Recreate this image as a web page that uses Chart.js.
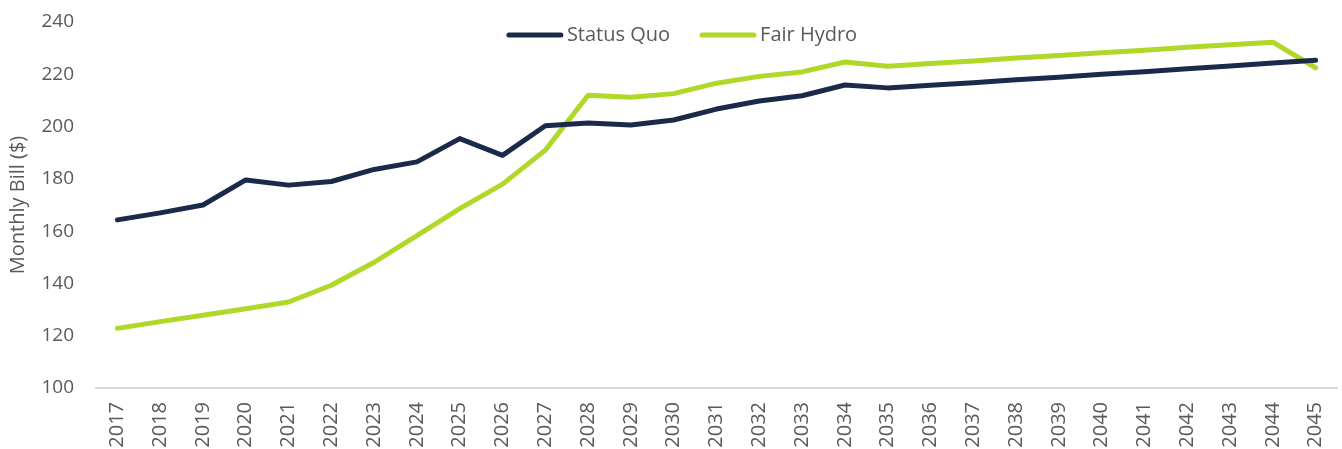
<!DOCTYPE html>
<html>
<head>
  <title>Monthly Bill</title>
  <script src="https://cdn.jsdelivr.net/npm/chart.js"></script>
  <style>
    body { margin: 0; background: #fff; }
    #wrap { width: 1342px; height: 449px; position: relative; }
  </style>
</head>
<body>
  <div id="wrap">
    <canvas id="myChart"></canvas>
  </div>

  <script>
    var years = ['2017', '2018', '2019', '2020', '2021', '2022', '2023', '2024', '2025', '2026',
                 '2027', '2028', '2029', '2030', '2031', '2032', '2033', '2034', '2035', '2036',
                 '2037', '2038', '2039', '2040', '2041', '2042', '2043', '2044', '2045'];

    var statusQuo = [164.3, 167, 170, 179.6, 177.6, 179, 183.6, 186.5, 195.4, 189,
                     200.3, 201.4, 200.6, 202.5, 206.7, 209.8, 211.8, 215.9, 214.8, 215.8,
                     216.8, 217.9, 218.9, 220, 221, 222.1, 223.2, 224.3, 225.4];

    var fairHydro = [122.8, 125.4, 127.8, 130.3, 132.9, 139.3, 148.1, 158.3, 168.6, 178,
                     191, 212, 211.2, 212.6, 216.6, 219.2, 220.9, 224.7, 223.1, 224.1,
                     225.1, 226.2, 227.2, 228.2, 229.2, 230.3, 231.3, 232.3, 222.5];

    var yTicks = [100, 120, 140, 160, 180, 200, 220, 240];

    var navy = '#1b2a4a';
    var green = '#afd829';
    var textGrey = '#595959';
    var fontFamily = 'Open Sans';

    // legend drawn over the top of the plot, like the original
    var topLegend = {
      id: 'topLegend',
      afterDatasetsDraw: function(chart) {
        var c = chart.ctx;
        var area = chart.chartArea;
        var lineLen = 56, textGap = 4, itemGap = 30;
        c.save();
        c.font = '20px "' + fontFamily + '"';
        var widths = chart.data.datasets.map(function(ds) {
          return lineLen + textGap + c.measureText(ds.label).width;
        });
        var total = widths.reduce(function(a, b) { return a + b; }, 0) + itemGap * (widths.length - 1);
        var x = 682 - total / 2;
        var y = area.top + 13;
        chart.data.datasets.forEach(function(ds, i) {
          c.strokeStyle = ds.borderColor;
          c.lineWidth = 5;
          c.lineCap = 'round';
          c.beginPath();
          c.moveTo(x + 2, y);
          c.lineTo(x + lineLen - 2, y);
          c.stroke();
          c.fillStyle = textGrey;
          c.textBaseline = 'middle';
          c.textAlign = 'left';
          c.fillText(ds.label, x + lineLen + textGap, y);
          x += widths[i] + itemGap;
        });
        c.restore();
      }
    };

    var ctx = document.getElementById('myChart').getContext('2d');
    var chart = new Chart(ctx, {
      type: 'line',
      data: {
        labels: years,
        datasets: [{
          label: 'Status Quo',
          data: statusQuo,
          borderColor: navy,
          borderWidth: 5,
          borderCapStyle: 'round',
          borderJoinStyle: 'round',
          pointRadius: 0,
          tension: 0
        }, {
          label: 'Fair Hydro',
          data: fairHydro,
          borderColor: green,
          borderWidth: 5,
          borderCapStyle: 'round',
          borderJoinStyle: 'round',
          pointRadius: 0,
          tension: 0
        }]
      },
      options: {
        responsive: true,
        maintainAspectRatio: false,
        animation: false,
        layout: { padding: { top: 22, right: 5, left: 0, bottom: 0 } },
        plugins: {
          tooltip: { enabled: false },
          legend: { display: false }
        },
        scales: {
          x: {
            offset: true,
            grid: { display: false, drawTicks: false },
            border: { display: true, color: '#d9d9d9', width: 2 },
            ticks: {
              color: textGrey,
              font: { family: fontFamily, size: 20 },
              maxRotation: 90,
              minRotation: 90,
              autoSkip: false,
              padding: 14
            },
            afterFit: function(scale) {
              scale.height = 61;
              scale.paddingLeft = 0;
              scale.paddingRight = 0;
            }
          },
          y: {
            min: 100,
            max: 240,
            grid: { display: false, drawTicks: false },
            border: { display: false },
            afterBuildTicks: function(scale) {
              scale.ticks = yTicks.map(function(v) { return { value: v }; });
            },
            ticks: {
              color: textGrey,
              font: { family: fontFamily, size: 19 },
              padding: 22
            },
            title: {
              display: true,
              text: 'Monthly Bill ($)',
              color: textGrey,
              font: { family: fontFamily, size: 20 },
              padding: { top: 6, bottom: 0 }
            },
            afterFit: function(scale) {
              scale.width = 96;
              scale.paddingTop = 0;
              scale.paddingBottom = 0;
            }
          }
        }
      },
      plugins: [topLegend]
    });
  </script>
</body>
</html>
